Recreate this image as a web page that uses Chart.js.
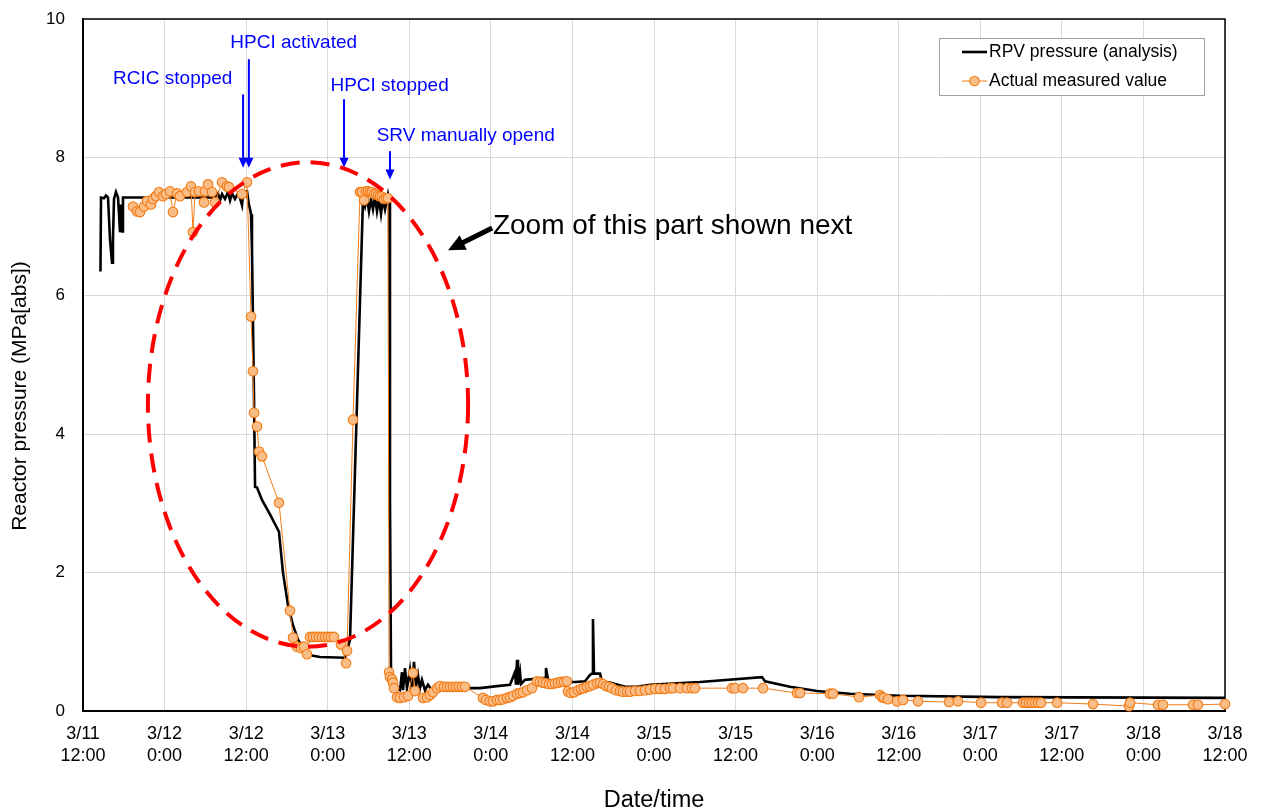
<!DOCTYPE html>
<html>
<head>
<meta charset="utf-8">
<script src="https://cdn.jsdelivr.net/npm/chart.js@4.4.1/dist/chart.umd.min.js"></script>
<style>
  html, body { margin: 0; padding: 0; background: #ffffff; }
  canvas { display: block; }
</style>
</head>
<body>
<canvas id="chart" width="1265" height="812"></canvas>
<script>
// Hours elapsed since 3/11 12:00 and reactor pressure in MPa[abs]

// RPV pressure from the analysis (black line)
const rpvHours = [
  2.57, 2.65, 3.09, 3.38, 3.68, 3.97, 4.27, 4.41, 4.56, 4.85, 5.15, 5.30, 5.44, 5.59, 5.74, 5.88,
  19.42, 19.86, 20.15, 20.45, 20.89, 21.33, 21.63, 21.92, 22.36, 22.80, 23.10, 23.39, 23.54, 23.83,
  24.13, 24.42, 24.57, 24.72, 24.86, 25.16, 25.31, 25.60, 26.33, 27.51, 28.83, 29.42, 30.16, 30.89,
  31.63, 32.66, 33.69, 34.87, 38.54, 39.28, 41.19, 41.49, 41.78, 42.07, 42.37, 42.66, 42.96, 43.25,
  43.54, 43.84, 44.13, 44.43, 44.72, 44.87, 45.02, 45.16, 45.31, 45.60, 46.05, 46.63, 46.93, 47.08,
  47.37, 47.66, 48.10, 48.40, 48.69, 48.99, 49.28, 49.58, 49.87, 50.31, 50.75, 51.34, 52.52, 55.46,
  58.40, 60.90, 62.82, 63.55, 63.70, 63.85, 63.99, 64.29, 64.44, 65.02, 67.97, 68.11, 68.41, 70.17,
  72.38, 73.85, 74.58, 74.88, 75.02, 75.17, 76.06, 76.35, 77.53, 79.74, 81.50, 83.41, 90.77, 99.89,
  100.33, 104.00, 107.98, 112.83, 120.19, 134.90, 168.00
];
const rpvPressure = [
  6.35, 7.42, 7.41, 7.45, 7.42, 6.82, 6.48, 6.82, 7.40, 7.50, 7.42, 7.18, 6.92, 7.32, 6.93, 7.42,
  7.42, 7.48, 7.38, 7.47, 7.40, 7.50, 7.38, 7.48, 7.40, 7.48, 7.41, 7.31, 7.47, 7.50,
  7.51, 7.31, 7.25, 7.18, 6.67, 4.50, 3.24, 3.23, 3.05, 2.84, 2.59, 2.00, 1.53, 1.24,
  1.03, 0.88, 0.80, 0.78, 0.77, 1.03, 7.40, 7.29, 7.42, 7.22, 7.40, 7.25, 7.43, 7.22,
  7.40, 7.18, 7.40, 7.25, 7.40, 7.47, 7.40, 3.05, 0.59, 0.45, 0.33, 0.30, 0.56, 0.30,
  0.62, 0.33, 0.59, 0.30, 0.71, 0.35, 0.52, 0.33, 0.45, 0.30, 0.38, 0.30, 0.33, 0.33,
  0.33, 0.36, 0.38, 0.56, 0.38, 0.74, 0.38, 0.56, 0.39, 0.45, 0.48, 0.62, 0.45, 0.42,
  0.42, 0.43, 0.52, 0.54, 1.33, 0.54, 0.54, 0.42, 0.41, 0.35, 0.35, 0.38, 0.42, 0.49,
  0.43, 0.35, 0.29, 0.25, 0.22, 0.20, 0.19
];

// Actual measured values (orange markers)
const measHours = [
  7.36, 7.94, 8.39, 8.97, 9.41, 10.00, 10.30, 10.74, 11.18, 11.77, 12.21, 12.80, 13.24, 13.83, 14.27,
  15.30, 15.89, 16.18, 16.48, 17.06, 17.80, 17.95, 18.39, 18.98, 19.42, 20.45, 21.18, 21.48, 23.39, 24.13,
  24.72, 25.00, 25.16, 25.60, 25.90, 26.33, 28.83, 30.45, 30.90, 31.48, 32.07, 32.50, 32.95,
  33.40, 33.84, 34.28, 34.72, 35.16, 35.60, 36.04, 36.48, 36.92,
  37.95, 38.70, 38.84, 39.72,
  40.75, 41.04, 41.34, 41.63, 41.93, 42.22, 42.52, 42.81, 43.10, 43.40, 43.69, 43.99, 44.28, 44.58, 44.87,
  45.02, 45.16, 45.46, 45.60, 45.75, 46.19, 46.63, 47.22, 47.81, 48.55, 48.84, 50.02, 50.61, 51.05, 51.49,
  52.08, 52.52, 53.11, 53.55, 53.99, 54.43, 54.87, 55.31, 55.75, 56.20,
  58.84, 59.29, 59.87, 60.32, 60.90, 61.35, 61.79, 62.38, 62.82, 63.26, 63.85, 64.29, 64.73, 65.32, 66.05,
  66.79, 67.23, 67.67, 68.11, 68.55, 68.99, 69.44, 69.88, 70.32, 70.76, 71.20,
  71.35, 71.79, 72.23, 72.82, 73.26, 73.70, 74.14, 74.58, 75.02, 75.61, 76.06, 76.50, 76.94, 77.38, 77.82,
  78.41, 79.00, 79.44, 80.03, 80.47, 81.20, 81.94, 82.68, 83.41, 84.15, 84.88, 85.62, 86.35, 86.80, 87.82,
  88.85, 89.59, 90.03, 95.47, 95.91, 97.09, 100.04, 105.04, 105.48, 109.89, 110.33, 114.16, 117.25, 117.54,
  117.84, 118.42, 119.75, 120.63, 122.84, 127.40, 128.72, 132.11, 135.20, 135.93, 138.28, 138.72, 139.16,
  139.60, 140.05, 140.49, 140.93, 143.29, 148.58, 153.88, 154.03, 158.15, 158.88, 163.29, 164.03, 168.00
];
const measPressure = [
  7.29, 7.22, 7.21, 7.29, 7.37, 7.32, 7.40, 7.44, 7.50, 7.44, 7.47, 7.51, 7.21, 7.48, 7.44,
  7.50, 7.58, 6.92, 7.50, 7.51, 7.35, 7.51, 7.61, 7.50, 7.35, 7.64, 7.58, 7.57, 7.47, 7.64,
  5.70, 4.91, 4.31, 4.11, 3.75, 3.68, 3.01, 1.45, 1.06, 0.93, 0.91, 0.93, 0.82,
  1.07, 1.07, 1.07, 1.07, 1.07, 1.07, 1.07, 1.07, 1.07,
  0.96, 0.69, 0.87, 4.21,
  7.50, 7.50, 7.38, 7.51, 7.51, 7.50, 7.50, 7.47, 7.47, 7.45, 7.44, 7.43, 7.40, 7.41, 7.41,
  0.56, 0.49, 0.46, 0.41, 0.33, 0.20, 0.19, 0.20, 0.22, 0.55, 0.29, 0.19, 0.20, 0.23, 0.27,
  0.33, 0.36, 0.35, 0.35, 0.35, 0.35, 0.35, 0.35, 0.35, 0.35,
  0.19, 0.16, 0.14, 0.14, 0.16, 0.16, 0.17, 0.19, 0.20, 0.22, 0.25, 0.26, 0.27, 0.30, 0.33,
  0.43, 0.42, 0.41, 0.40, 0.39, 0.39, 0.40, 0.41, 0.42, 0.42, 0.43,
  0.28, 0.26, 0.27, 0.30, 0.32, 0.33, 0.35, 0.36, 0.38, 0.40, 0.41, 0.39, 0.36, 0.35, 0.33,
  0.30, 0.29, 0.28, 0.28, 0.28, 0.29, 0.29, 0.30, 0.31, 0.32, 0.32, 0.32, 0.33, 0.33, 0.33,
  0.33, 0.33, 0.33, 0.33, 0.33, 0.33, 0.33, 0.26, 0.26, 0.25, 0.25, 0.20, 0.23, 0.20,
  0.19, 0.17, 0.14, 0.16, 0.14, 0.13, 0.14, 0.12, 0.12, 0.12, 0.12, 0.12, 0.12,
  0.12, 0.12, 0.12, 0.12, 0.12, 0.10, 0.07, 0.12, 0.09, 0.09, 0.09, 0.09, 0.10
];

// Axis ticks: one label every 12 hours
const xTickLabels = [
  ['3/11', '12:00'], ['3/12', '0:00'], ['3/12', '12:00'], ['3/13', '0:00'], ['3/13', '12:00'],
  ['3/14', '0:00'], ['3/14', '12:00'], ['3/15', '0:00'], ['3/15', '12:00'], ['3/16', '0:00'],
  ['3/16', '12:00'], ['3/17', '0:00'], ['3/17', '12:00'], ['3/18', '0:00'], ['3/18', '12:00']
];
const yTickLabels = ['0', '2', '4', '6', '8', '10'];
const yAxisTitle = 'Reactor pressure (MPa[abs])';

// Event call-outs (blue text + arrow), placed in axis units
const eventNotes = [
  { text: 'RCIC stopped',       tx: 13.2, ty: 9.13, ax: 23.55, from: 8.91, to: 7.85 },
  { text: 'HPCI activated',     tx: 31.0, ty: 9.65, ax: 24.40, from: 9.42, to: 7.85 },
  { text: 'HPCI stopped',       tx: 45.1, ty: 9.03, ax: 38.40, from: 8.84, to: 7.85 },
  { text: 'SRV manually opend', tx: 56.3, ty: 8.31, ax: 45.16, from: 8.09, to: 7.68 }
];
// Highlighted region (dashed ellipse) and its caption
const zoomRegion = { cx: 33.1, cy: 4.43, rx: 23.55, ry: 3.5 };
const zoomCaption = { text: 'Zoom of this part shown next', x: 60.3, y: 6.89,
                      arrowFrom: [60.2, 6.98], arrowTo: [53.7, 6.66] };

const FONT = "'Liberation Sans', Arial, Helvetica, sans-serif";
Chart.defaults.font.family = FONT;
Chart.defaults.color = '#000000';

const toPoints = (xs, ys) => xs.map((x, i) => ({ x: x, y: ys[i] }));

function arrowHead(ctx, x, y, dx, dy, len, half) {
  const L = Math.hypot(dx, dy);
  const ux = dx / L, uy = dy / L;
  const bx = x - ux * len, by = y - uy * len;
  ctx.beginPath();
  ctx.moveTo(x, y);
  ctx.lineTo(bx - uy * half, by + ux * half);
  ctx.lineTo(bx + uy * half, by - ux * half);
  ctx.closePath();
  ctx.fill();
}

const framePlugin = {
  id: 'frame',
  beforeDatasetsDraw(chart) {
    const { ctx, chartArea: a } = chart;
    ctx.save();
    ctx.strokeStyle = '#000000';
    ctx.lineWidth = 1.5;
    ctx.beginPath();
    ctx.moveTo(a.left, a.top);
    ctx.lineTo(a.right, a.top);
    ctx.lineTo(a.right, a.bottom);
    ctx.stroke();
    ctx.restore();
  },
  afterDraw(chart) {
    // Vertical axis title, sitting a little below the middle of the plot
    const { ctx, chartArea: a } = chart;
    ctx.save();
    ctx.translate(20, (a.top + a.bottom) / 2 + 31);
    ctx.rotate(-Math.PI / 2);
    ctx.font = '21px ' + FONT;
    ctx.fillStyle = '#000000';
    ctx.textAlign = 'center';
    ctx.textBaseline = 'middle';
    ctx.fillText(yAxisTitle, 0, 0);
    ctx.restore();
  }
};

const notesPlugin = {
  id: 'notes',
  afterDatasetsDraw(chart) {
    const { ctx, scales: { x, y } } = chart;
    ctx.save();
    // Event labels and arrows
    ctx.font = '19px ' + FONT;
    ctx.textAlign = 'center';
    ctx.textBaseline = 'middle';
    ctx.fillStyle = '#0000ff';
    ctx.strokeStyle = '#0000ff';
    ctx.lineWidth = 2;
    eventNotes.forEach(n => {
      ctx.fillText(n.text, x.getPixelForValue(n.tx), y.getPixelForValue(n.ty));
      const px = x.getPixelForValue(n.ax);
      const y0 = y.getPixelForValue(n.from);
      const y1 = y.getPixelForValue(n.to);
      ctx.beginPath();
      ctx.moveTo(px, y0);
      ctx.lineTo(px, y1 - 8);
      ctx.stroke();
      arrowHead(ctx, px, y1, 0, 1, 10, 4.5);
    });

    // Dashed ellipse around the region of interest
    const cx = x.getPixelForValue(zoomRegion.cx);
    const cy = y.getPixelForValue(zoomRegion.cy);
    const rx = x.getPixelForValue(zoomRegion.cx + zoomRegion.rx) - cx;
    const ry = cy - y.getPixelForValue(zoomRegion.cy + zoomRegion.ry);
    ctx.strokeStyle = '#ff0000';
    ctx.lineWidth = 4;
    ctx.setLineDash([19, 11]);
    ctx.beginPath();
    ctx.ellipse(cx, cy, rx, ry, 0, 0, Math.PI * 2);
    ctx.stroke();
    ctx.setLineDash([]);

    // Caption with a bold black arrow
    ctx.fillStyle = '#000000';
    ctx.font = '28px ' + FONT;
    ctx.textAlign = 'left';
    ctx.textBaseline = 'alphabetic';
    ctx.fillText(zoomCaption.text, x.getPixelForValue(zoomCaption.x), y.getPixelForValue(zoomCaption.y));
    const ax0 = x.getPixelForValue(zoomCaption.arrowFrom[0]);
    const ay0 = y.getPixelForValue(zoomCaption.arrowFrom[1]);
    const ax1 = x.getPixelForValue(zoomCaption.arrowTo[0]);
    const ay1 = y.getPixelForValue(zoomCaption.arrowTo[1]);
    const dx = ax1 - ax0, dy = ay1 - ay0, L = Math.hypot(dx, dy);
    ctx.strokeStyle = '#000000';
    ctx.lineWidth = 5;
    ctx.beginPath();
    ctx.moveTo(ax0, ay0);
    ctx.lineTo(ax1 - dx / L * 14, ay1 - dy / L * 14);
    ctx.stroke();
    arrowHead(ctx, ax1, ay1, dx, dy, 17, 8);
    ctx.restore();
  },
  afterDraw(chart) {
    // Legend box in the upper right of the plot
    const { ctx, chartArea: a } = chart;
    const ds = chart.data.datasets;
    const w = 265, h = 57;
    const left = a.right - 286, top = a.top + 19;
    ctx.save();
    ctx.fillStyle = '#ffffff';
    ctx.fillRect(left, top, w, h);
    ctx.strokeStyle = '#a0a0a0';
    ctx.lineWidth = 1;
    ctx.strokeRect(left + 0.5, top + 0.5, w, h);
    ctx.font = '17.5px ' + FONT;
    ctx.textAlign = 'left';
    ctx.textBaseline = 'middle';
    ctx.fillStyle = '#000000';
    const rows = [ds[1], ds[0]];
    rows.forEach((d, i) => {
      const yy = top + 14 + i * 29;
      const sx = left + 23, ex = left + 48;
      ctx.strokeStyle = d.borderColor;
      ctx.lineWidth = d.borderWidth;
      ctx.beginPath();
      ctx.moveTo(sx, yy);
      ctx.lineTo(ex, yy);
      ctx.stroke();
      if (d.pointRadius > 0) {
        ctx.beginPath();
        ctx.arc((sx + ex) / 2, yy, d.pointRadius, 0, Math.PI * 2);
        ctx.fillStyle = d.pointBackgroundColor;
        ctx.fill();
        ctx.lineWidth = d.pointBorderWidth;
        ctx.strokeStyle = d.pointBorderColor;
        ctx.stroke();
      }
      ctx.fillStyle = '#000000';
      ctx.fillText(d.label, ex + 2, yy);
    });
    ctx.restore();
  }
};

new Chart(document.getElementById('chart'), {
  type: 'line',
  data: {
    datasets: [
      {
        label: 'Actual measured value',
        data: toPoints(measHours, measPressure),
        borderColor: '#f57d18',
        borderWidth: 1,
        pointRadius: 4.8,
        pointBackgroundColor: '#fbbd88',
        pointBorderColor: '#f27a12',
        pointBorderWidth: 1.1,
        tension: 0,
        clip: false,
        order: 0
      },
      {
        label: 'RPV pressure (analysis)',
        data: toPoints(rpvHours, rpvPressure),
        borderColor: '#000000',
        borderWidth: 2.6,
        pointRadius: 0,
        tension: 0,
        order: 1
      }
    ]
  },
  options: {
    responsive: false,
    animation: false,
    devicePixelRatio: 1,
    layout: { padding: { top: 19, right: 40, bottom: 0, left: 0 } },
    plugins: {
      legend: { display: false },
      tooltip: { enabled: false },
      title: { display: false }
    },
    scales: {
      x: {
        type: 'linear',
        min: 0,
        max: 168,
        grid: { color: '#d9d9d9', lineWidth: 1, drawTicks: false },
        border: { display: true, color: '#000000', width: 2 },
        ticks: {
          stepSize: 12,
          autoSkip: false,
          maxRotation: 0,
          padding: 12,
          font: { size: 18, lineHeight: 1.22 },
          color: '#000000',
          callback: v => xTickLabels[Math.round(v / 12)]
        },
        title: {
          display: true,
          text: 'Date/time',
          font: { size: 23.5, lineHeight: 1.0 },
          color: '#000000',
          padding: { top: 0, bottom: 0 }
        },
        afterFit: s => { s.height = 101; }
      },
      y: {
        min: 0,
        max: 10,
        grid: { color: '#d9d9d9', lineWidth: 1, drawTicks: false },
        border: { display: true, color: '#000000', width: 2 },
        ticks: {
          stepSize: 2,
          padding: 18,
          font: { size: 17 },
          color: '#000000',
          callback: v => yTickLabels[Math.round(v / 2)]
        },
        title: { display: false },
        afterFit: s => {
          s.width = 83;
          // the wide label gap should not push the plot top down
          s.paddingTop = 10;
          s.paddingBottom = 10;
        }
      }
    }
  },
  plugins: [framePlugin, notesPlugin]
});
</script>
</body>
</html>
